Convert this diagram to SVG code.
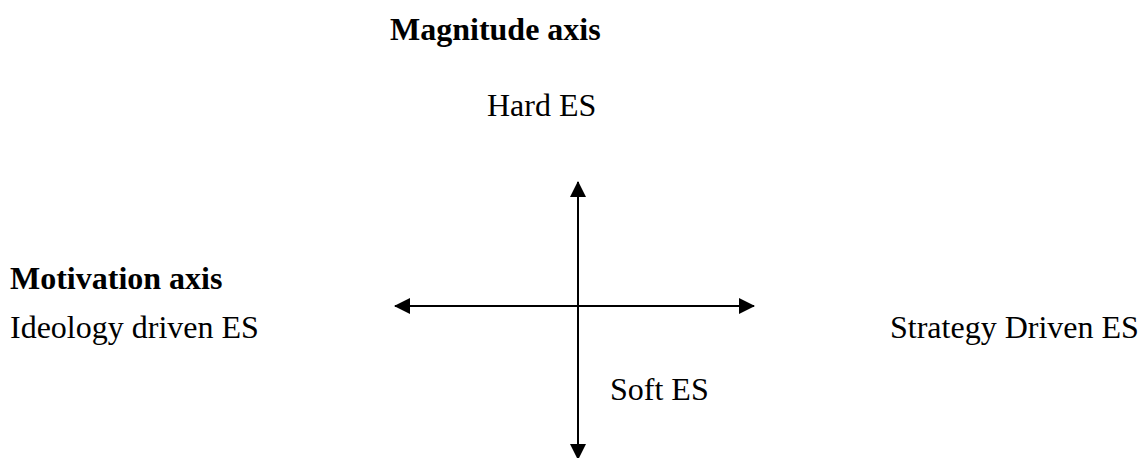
<svg xmlns="http://www.w3.org/2000/svg" width="1141" height="458" viewBox="0 0 1141 458">
<style>
.t{font-family:"Liberation Serif","Times New Roman",serif;font-size:32px;fill:#000}
.b{font-weight:bold}
.ax{stroke:#000;stroke-width:2;fill:none}
</style>
<defs>
<marker id="ah" viewBox="0 0 16 16" refX="15" refY="8" markerWidth="16" markerHeight="16" markerUnits="userSpaceOnUse" orient="auto-start-reverse">
<path d="M0,0 L16,8 L0,16 Z" fill="#000"/>
</marker>
</defs>
<rect width="1141" height="458" fill="#fff"/>
<g id="connectors">
<line class="ax" x1="578" y1="182" x2="578" y2="459" marker-start="url(#ah)" marker-end="url(#ah)"/>
<line class="ax" x1="395" y1="306" x2="754" y2="306" marker-start="url(#ah)" marker-end="url(#ah)"/>
</g>
<g id="magnitude-title"><text class="t b" x="390" y="40">Magnitude axis</text></g>
<g id="hard-es"><text class="t" x="487" y="116">Hard ES</text></g>
<g id="motivation-title"><text class="t b" x="10" y="289">Motivation axis</text></g>
<g id="ideology-es"><text class="t" x="10" y="338">Ideology driven ES</text></g>
<g id="strategy-es"><text class="t" x="890" y="338">Strategy Driven ES</text></g>
<g id="soft-es"><text class="t" x="610" y="400">Soft ES</text></g>
</svg>
